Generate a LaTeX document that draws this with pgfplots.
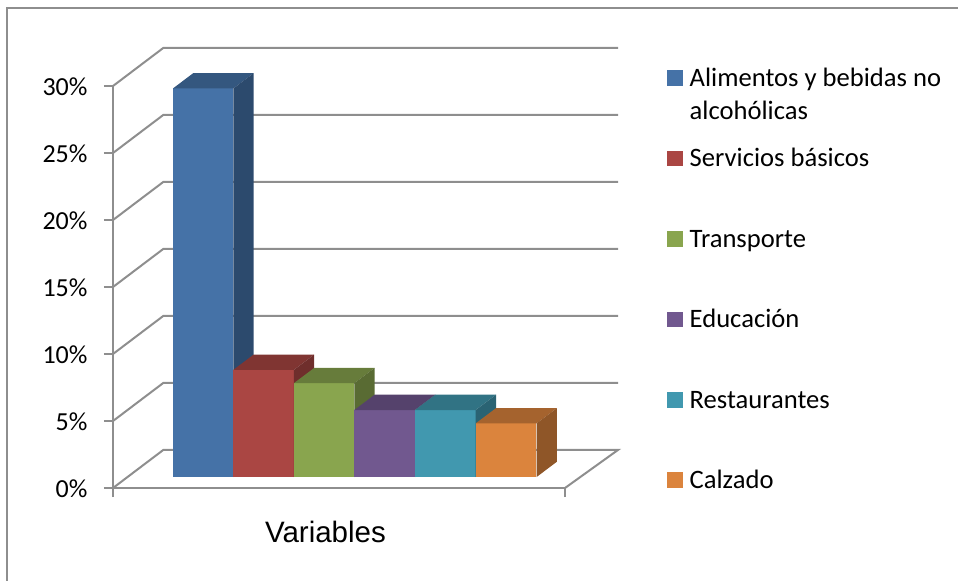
\documentclass[border=0pt]{standalone}
\usepackage{pgfplots}
\usepackage{fontspec}
\pgfplotsset{compat=1.18}
\setmainfont{Carlito}
\newfontfamily\arialf{Liberation Sans}
\definecolor{gl}{HTML}{8E8E8E}
\definecolor{blF}{HTML}{4572A7}\definecolor{blT}{HTML}{34577F}\definecolor{blS}{HTML}{2C4A6D}
\definecolor{reF}{HTML}{AA4643}\definecolor{reT}{HTML}{803532}\definecolor{reS}{HTML}{6F2E2C}
\definecolor{grF}{HTML}{89A54E}\definecolor{grT}{HTML}{677C3B}\definecolor{grS}{HTML}{596B33}
\definecolor{puF}{HTML}{71588F}\definecolor{puT}{HTML}{55426C}\definecolor{puS}{HTML}{4A3A5E}
\definecolor{teF}{HTML}{4198AF}\definecolor{teT}{HTML}{317384}\definecolor{teS}{HTML}{2A6373}
\definecolor{orF}{HTML}{DB843D}\definecolor{orT}{HTML}{A5632E}\definecolor{orS}{HTML}{8F5628}
\pgfplotsset{
  gridl/.style={gl,line width=2pt,no markers,forget plot,line join=miter},
  face/.style={fill=#1,draw=none,forget plot,yshift=11pt},
  front/.style={ybar,bar width=60.5pt,bar shift=0pt,fill=#1,draw=none,yshift=11pt,
    legend image code/.code={\fill[#1] (0pt,-10.5pt) rectangle (15.5pt,5pt);\path (19.5pt,0pt);}},
}
\begin{document}
\begin{tikzpicture}
\begin{axis}[
  name=ax,
  scale only axis,width=452pt,height=402pt,
  xmin=113,xmax=565,ymin=0,ymax=30,
  clip=false,
  axis x line*=bottom,axis y line*=left,
  axis line style={gl,line width=2pt,-},
  tick style={gl,line width=2pt},
  tick align=outside,major tick length=9pt,
  xtick={113,565},xticklabels={,},
  ytick={0,5,10,15,20,25,30},
  yticklabel={\pgfmathprintnumber{\tick}\%},
  /pgf/number format/assume math mode=true,
  ticklabel style={font=\fontsize{26}{30}\selectfont,text=black},
  yticklabel style={xshift=-13pt,yshift=-1pt},
  xlabel={Variables},
  x label style={at={(axis description cs:0.470,-0.136)},anchor=base,font=\arialf\fontsize{29.5}{34}\selectfont},
  legend cell align=left,
  legend style={at={(axis cs:667,32.97)},anchor=north west,draw=none,fill=none,inner sep=0pt,
    font=\fontsize{26.6}{30}\selectfont,
    row sep=0pt,
    nodes={text height=40pt,text depth=40.4pt,inner ysep=0pt,inner xsep=3pt,anchor=base west}},
]
% frame
\addplot[gl,line width=2pt,no markers,forget plot] coordinates {(7,-6.94) (7,35.82) (958,35.82)};
% back grid
\addplot[gridl] coordinates {(113,0) (163.3,2.84) (618,2.84) (565,0)};
\addplot[gridl] coordinates {(113,5) (163.3,7.84) (618,7.84)};
\addplot[gridl] coordinates {(113,10) (163.3,12.84) (618,12.84)};
\addplot[gridl] coordinates {(113,15) (163.3,17.84) (618,17.84)};
\addplot[gridl] coordinates {(113,20) (163.3,22.84) (618,22.84)};
\addplot[gridl] coordinates {(113,25) (163.3,27.84) (618,27.84)};
\addplot[gridl] coordinates {(113,30) (163.3,32.84) (618,32.84)};
% Alimentos
\addplot[front=blF] coordinates {(203.2,29)};
\addlegendentry{\makebox[0pt][l]{\raisebox{-33pt}{alcohólicas}}Alimentos y bebidas no}
\addplot[face=blT] coordinates {(173,29) (233.4,29) (253.7,30.14) (193.3,30.14)} -- cycle;
\addplot[face=blS] coordinates {(233.4,0) (253.7,1.14) (253.7,30.14) (233.4,29)} -- cycle;
% Servicios
\addplot[front=reF] coordinates {(263.6,8)};
\addlegendentry{Servicios básicos}
\addplot[face=reT] coordinates {(233.4,8) (293.9,8) (314.2,9.14) (253.7,9.14)} -- cycle;
\addplot[face=reS] coordinates {(293.9,0) (314.2,1.14) (314.2,9.14) (293.9,8)} -- cycle;
% Transporte
\addplot[front=grF] coordinates {(324.1,7)};
\addlegendentry{Transporte}
\addplot[face=grT] coordinates {(293.9,7) (354.3,7) (374.6,8.14) (314.2,8.14)} -- cycle;
\addplot[face=grS] coordinates {(354.3,0) (374.6,1.14) (374.6,8.14) (354.3,7)} -- cycle;
% Educacion
\addplot[front=puF] coordinates {(384.7,5)};
\addlegendentry{Educación}
\addplot[face=puT] coordinates {(354.3,5) (415,5) (435.3,6.14) (374.6,6.14)} -- cycle;
\addplot[face=puS] coordinates {(415,0) (435.3,1.14) (435.3,6.14) (415,5)} -- cycle;
% Restaurantes
\addplot[front=teF] coordinates {(445.3,5)};
\addlegendentry{Restaurantes}
\addplot[face=teT] coordinates {(415,5) (475.7,5) (496,6.14) (435.3,6.14)} -- cycle;
\addplot[face=teS] coordinates {(475.7,0) (496,1.14) (496,6.14) (475.7,5)} -- cycle;
% Calzado
\addplot[front=orF] coordinates {(506.2,4)};
\addlegendentry{Calzado}
\addplot[face=orT] coordinates {(475.7,4) (536.6,4) (556.9,5.14) (496,5.14)} -- cycle;
\addplot[face=orS] coordinates {(536.6,0) (556.9,1.14) (556.9,5.14) (536.6,4)} -- cycle;
\end{axis}
\pgfresetboundingbox
\path (ax.south west)++(-113pt,-93pt) coordinate (bb1);
\path (ax.south west)++(845pt,488pt) coordinate (bb2);
\path[use as bounding box] (bb1) rectangle (bb2);
\end{tikzpicture}
\end{document}
